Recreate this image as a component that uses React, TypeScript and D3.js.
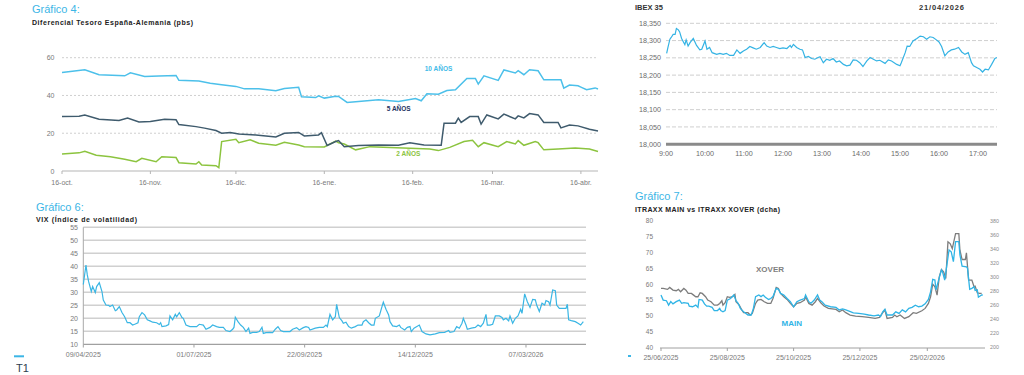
import React from 'react';
import * as d3 from 'd3';

const FONT = '"Liberation Sans", Arial, sans-serif';
const CYAN = '#3cb6e6';
const GREEN = '#8cc43f';
const SLATE = '#3f5b6d';
const GREY_TXT = '#7a7a7a';

// ---------- Gráfico 4: diferencial España-Alemania (pbs) ----------
const spreadTickDates = ['2025-10-16', '2025-11-16', '2025-12-16', '2026-01-16', '2026-02-16', '2026-03-16', '2026-04-16'];
const spreadTickLabels = ['16-oct.', '16-nov.', '16-dic.', '16-ene.', '16-feb.', '16-mar.', '16-abr.'];
const spreadYTicks = [0, 20, 40, 60];

const spread10y: [string, number][] = [
  ['2025-10-16', 52.2], ['2025-10-24', 53.6], ['2025-10-29', 51], ['2025-11-07', 50.4], ['2025-11-09', 52],
  ['2025-11-14', 50], ['2025-11-19', 50.3], ['2025-11-25', 50.6], ['2025-11-26', 48], ['2025-12-03', 47.6],
  ['2025-12-07', 46.5], ['2025-12-11', 45.7], ['2025-12-16', 44.8], ['2025-12-19', 43.5], ['2025-12-24', 43.5],
  ['2025-12-30', 42.5], ['2026-01-02', 43.7], ['2026-01-07', 44.3], ['2026-01-08', 39.3], ['2026-01-13', 38.9],
  ['2026-01-14', 39.8], ['2026-01-16', 38.6], ['2026-01-20', 39.6], ['2026-01-21', 39.5], ['2026-01-24', 36.3],
  ['2026-01-28', 36.8], ['2026-02-04', 37.7], ['2026-02-11', 36.8], ['2026-02-17', 38.4], ['2026-02-19', 37.2],
  ['2026-02-21', 40.9], ['2026-02-25', 40.7], ['2026-02-28', 42.6], ['2026-03-03', 43], ['2026-03-07', 49],
  ['2026-03-10', 49], ['2026-03-11', 46], ['2026-03-13', 50.4], ['2026-03-18', 48], ['2026-03-20', 53.5],
  ['2026-03-24', 51.9], ['2026-03-25', 53.1], ['2026-03-27', 51], ['2026-03-29', 53.6], ['2026-04-01', 53.1],
  ['2026-04-03', 48.3], ['2026-04-09', 48.3], ['2026-04-10', 43.9], ['2026-04-12', 45.5], ['2026-04-15', 45.1],
  ['2026-04-16', 44.4], ['2026-04-18', 43], ['2026-04-21', 44], ['2026-04-22', 43.4],
];

const spread5y: [string, number][] = [
  ['2025-10-16', 28.8], ['2025-10-22', 29], ['2025-10-24', 29.6], ['2025-10-29', 27.4], ['2025-11-05', 26.7],
  ['2025-11-08', 28.1], ['2025-11-12', 26], ['2025-11-16', 26.2], ['2025-11-21', 27.4], ['2025-11-25', 27.1],
  ['2025-11-26', 24.6], ['2025-12-02', 23.5], ['2025-12-05', 22.7], ['2025-12-09', 21.4], ['2025-12-11', 20],
  ['2025-12-14', 20.4], ['2025-12-17', 19.6], ['2025-12-23', 19.1], ['2025-12-30', 18], ['2026-01-02', 20],
  ['2026-01-07', 20.4], ['2026-01-09', 18.6], ['2026-01-14', 19.1], ['2026-01-15', 20.3], ['2026-01-17', 13.5],
  ['2026-01-20', 15.6], ['2026-01-21', 16.1], ['2026-01-23', 12.9], ['2026-01-28', 13.5], ['2026-02-04', 13.8],
  ['2026-02-11', 13.6], ['2026-02-15', 15], ['2026-02-20', 13.8], ['2026-02-26', 13.6], ['2026-02-27', 25.3],
  ['2026-03-03', 25.3], ['2026-03-04', 28], ['2026-03-05', 25.7], ['2026-03-08', 28.8], ['2026-03-11', 28.8],
  ['2026-03-12', 24.8], ['2026-03-14', 29.7], ['2026-03-18', 27.6], ['2026-03-20', 30.1], ['2026-03-24', 27.6],
  ['2026-03-25', 29.2], ['2026-03-27', 28.1], ['2026-03-29', 30.4], ['2026-04-01', 29.7], ['2026-04-03', 25.7],
  ['2026-04-08', 25.7], ['2026-04-09', 22.8], ['2026-04-12', 24.4], ['2026-04-15', 23.9], ['2026-04-19', 22.1],
  ['2026-04-22', 21.2],
];

const spread2y: [string, number][] = [
  ['2025-10-16', 9], ['2025-10-22', 9.6], ['2025-10-24', 10.5], ['2025-10-28', 8.3], ['2025-11-02', 7.6],
  ['2025-11-07', 6.2], ['2025-11-11', 4.9], ['2025-11-13', 6.7], ['2025-11-18', 4.9], ['2025-11-20', 7.6],
  ['2025-11-25', 7.1], ['2025-11-26', 4.4], ['2025-12-02', 3.7], ['2025-12-03', 4.9], ['2025-12-04', 3.2],
  ['2025-12-09', 2.8], ['2025-12-10', 1.8], ['2025-12-11', 15.6], ['2025-12-16', 16.8], ['2025-12-17', 15],
  ['2025-12-21', 16.5], ['2025-12-24', 14.7], ['2025-12-30', 13.6], ['2026-01-02', 15.2], ['2026-01-07', 13.8],
  ['2026-01-09', 12.9], ['2026-01-16', 12.7], ['2026-01-20', 15.8], ['2026-01-21', 15], ['2026-01-23', 14.3],
  ['2026-01-27', 11.2], ['2026-02-01', 12.9], ['2026-02-08', 12.4], ['2026-02-15', 12], ['2026-02-22', 11.6],
  ['2026-02-25', 10.8], ['2026-03-01', 12.5], ['2026-03-06', 15.6], ['2026-03-09', 16.3], ['2026-03-11', 12.9],
  ['2026-03-13', 15], ['2026-03-18', 12.9], ['2026-03-21', 15.6], ['2026-03-24', 14.3], ['2026-03-25', 16.1],
  ['2026-03-27', 13.6], ['2026-03-31', 15.6], ['2026-04-01', 15], ['2026-04-03', 11.2], ['2026-04-08', 11.6],
  ['2026-04-14', 12.2], ['2026-04-19', 11.6], ['2026-04-22', 10.3],
];

// ---------- IBEX 35 intradía ----------
const ibexXTicks = ['9:00', '10:00', '11:00', '12:00', '13:00', '14:00', '15:00', '16:00', '17:00'];
const ibexYTicks = [18000, 18050, 18100, 18150, 18200, 18250, 18300, 18350];
const ibexSession: [string, number][] = [
  ['9:01', 18263], ['9:03', 18280], ['9:06', 18304], ['9:08', 18309], ['9:11', 18318], ['9:14', 18318],
  ['9:16', 18335], ['9:19', 18331], ['9:21', 18325], ['9:24', 18306], ['9:29', 18288], ['9:31', 18302],
  ['9:34', 18284], ['9:37', 18294], ['9:42', 18306], ['9:47', 18286], ['9:52', 18273], ['9:55', 18275],
  ['10:00', 18299], ['10:03', 18275], ['10:07', 18280], ['10:11', 18265], ['10:18', 18260], ['10:23', 18263],
  ['10:28', 18260], ['10:33', 18263], ['10:38', 18257], ['10:44', 18257], ['10:49', 18273], ['10:54', 18263],
  ['10:59', 18270], ['11:04', 18275], ['11:09', 18283], ['11:14', 18279], ['11:19', 18275], ['11:25', 18280],
  ['11:31', 18294], ['11:35', 18284], ['11:40', 18280], ['11:45', 18283], ['11:50', 18280], ['11:55', 18277],
  ['12:00', 18279], ['12:06', 18277], ['12:11', 18286], ['12:13', 18280], ['12:16', 18289], ['12:21', 18280],
  ['12:26', 18275], ['12:30', 18273], ['12:34', 18251], ['12:39', 18254], ['12:44', 18248], ['12:49', 18246],
  ['12:54', 18251], ['12:57', 18253], ['13:02', 18236], ['13:07', 18246], ['13:12', 18243], ['13:17', 18248],
  ['13:22', 18238], ['13:27', 18241], ['13:33', 18231], ['13:38', 18227], ['13:43', 18229], ['13:48', 18244],
  ['13:53', 18243], ['13:58', 18236], ['14:03', 18225], ['14:09', 18241], ['14:14', 18251], ['14:19', 18246],
  ['14:24', 18241], ['14:29', 18243], ['14:37', 18234], ['14:42', 18244], ['14:47', 18241], ['14:55', 18231],
  ['15:00', 18227], ['15:02', 18236], ['15:08', 18265], ['15:11', 18284], ['15:15', 18283], ['15:20', 18299],
  ['15:26', 18306], ['15:31', 18313], ['15:36', 18311], ['15:41', 18304], ['15:46', 18311], ['15:51', 18309],
  ['15:56', 18302], ['16:00', 18296], ['16:04', 18283], ['16:09', 18256], ['16:14', 18267], ['16:19', 18273],
  ['16:24', 18275], ['16:30', 18280], ['16:35', 18267], ['16:40', 18260], ['16:45', 18265], ['16:50', 18236],
  ['16:53', 18227], ['16:58', 18222], ['17:03', 18217], ['17:07', 18209], ['17:11', 18217], ['17:16', 18215],
  ['17:21', 18231], ['17:26', 18248], ['17:29', 18251],
];

// ---------- Gráfico 6: VIX (días desde 09/04/2025, nivel) ----------
const vixStart = '2025-04-09';
const vixTickDates = ['2025-04-09', '2025-07-01', '2025-09-22', '2025-12-14', '2026-03-07'];
const vixTickLabels = ['09/04/2025', '01/07/2025', '22/09/2025', '14/12/2025', '07/03/2026'];
const vixYTicks = [10, 15, 20, 25, 30, 35, 40, 45, 50, 55];
const vixSeries: [number, number][] = [
  [0, 33], [2, 40.5], [3, 36.7], [4, 34.1], [6, 30.3], [7, 32.2], [9, 29.9], [10, 32.2], [12, 33.7], [14, 30.3],
  [15, 27], [17, 25.1], [19, 25], [20, 24.5], [22, 25.1], [24, 22.9], [25, 23.2], [27, 24.5], [29, 22.2], [31, 20.6],
  [33, 18.3], [35, 18.3], [37, 17.4], [39, 17.8], [41, 18.3], [42, 20.6], [44, 22.2], [46, 21.3], [48, 19.4], [50, 19],
  [52, 18.5], [55, 18.3], [57, 17.6], [58, 18.3], [59, 16.8], [62, 17.1], [64, 17.6], [65, 20.9], [67, 19.4], [69, 21.5],
  [70, 20.6], [72, 22.2], [74, 20.3], [75, 20], [77, 17.4], [80, 16.8], [82, 16.8], [85, 16.8], [87, 17.7], [90, 17.4],
  [92, 15.8], [95, 16.5], [97, 17.4], [100, 16.8], [102, 16.5], [105, 16.5], [107, 15.3], [110, 14.9], [112, 15.8], [113, 16.5],
  [114, 20.4], [116, 18.7], [118, 17.4], [120, 16.5], [122, 14.9], [124, 16.2], [125, 14.2], [127, 14.6], [130, 14.6], [132, 14.9],
  [134, 16.5], [135, 14.2], [137, 14.5], [140, 14.6], [142, 14.5], [144, 15.8], [146, 16.8], [148, 15.3], [150, 14.9], [152, 14.9],
  [155, 14.9], [157, 15.8], [160, 16.4], [162, 15.5], [165, 16.4], [167, 16.8], [169, 16.5], [170, 15.5], [174, 16.2], [177, 16.5],
  [180, 16.5], [182, 17.4], [183, 16.8], [185, 21.5], [187, 19.4], [189, 20.6], [190, 25.4], [192, 20.3], [194, 19], [195, 18.1],
  [197, 18.5], [199, 16.8], [201, 16.2], [204, 16.8], [206, 17.4], [209, 17.4], [210, 18.7], [212, 19.4], [214, 18.3], [216, 17.4],
  [218, 17.4], [219, 20], [222, 20.9], [224, 24.5], [225, 26.2], [227, 23.5], [229, 21.3], [230, 18.7], [232, 17.1], [235, 16.8],
  [237, 17.4], [238, 16.5], [241, 15.5], [243, 16.5], [245, 16.8], [246, 14.9], [248, 16.2], [252, 17.4], [254, 14.9], [257, 14],
  [260, 13.6], [264, 14], [267, 14.5], [271, 14.6], [274, 15.3], [275, 14.6], [278, 14.9], [280, 16.8], [282, 16.2], [284, 18.1],
  [285, 20], [287, 17.4], [288, 15.8], [291, 16.2], [294, 16.5], [296, 17.4], [298, 16.8], [300, 18.1], [302, 21.5], [303, 17.4],
  [305, 17.4], [307, 17.7], [309, 20.9], [312, 20.9], [314, 20.3], [315, 19.4], [317, 20], [319, 19], [320, 20.9], [322, 18.1],
  [324, 20], [326, 20.9], [328, 23.5], [329, 21.9], [331, 29.4], [333, 26.4], [335, 24.2], [337, 27.3], [339, 27.1], [340, 25.1],
  [342, 22.6], [344, 25.8], [346, 25.1], [347, 26.8], [349, 26.4], [350, 25.1], [352, 30.9], [354, 30.6], [355, 25.1], [357, 23.8],
  [360, 23.8], [362, 23.8], [363, 25.4], [364, 19.4], [366, 19.1], [369, 18.7], [371, 18.1], [373, 17.4], [375, 18.7],
];

// ---------- Gráfico 7: iTraxx Main (izda) vs Xover (dcha), días desde 25/06/2025 ----------
const itraxxStart = '2025-06-25';
const itraxxTickDates = ['2025-06-25', '2025-08-25', '2025-10-25', '2025-12-25', '2026-02-25'];
const itraxxTickLabels = ['25/06/2025', '25/08/2025', '25/10/2025', '25/12/2025', '25/02/2026'];
const mainYTicks = [40, 45, 50, 55, 60, 65, 70, 75, 80];
const xoverYTicks = [200, 220, 240, 260, 280, 300, 320, 340, 360, 380];
const itraxxMain: [number, number][] = [
  [0, 56.6], [2, 55], [5, 54.8], [7, 53.4], [9, 54.5], [11, 53.8], [14, 54.5], [17, 55], [19, 54], [21, 54.2],
  [25, 54], [26, 53.1], [29, 52.9], [32, 53.4], [34, 52.7], [35, 55.2], [38, 55], [40, 53.8], [42, 53.1], [44, 53.1],
  [47, 52.7], [49, 51.7], [52, 51.7], [54, 52.4], [55, 51.7], [57, 51.3], [59, 51.7], [61, 55], [64, 55.5], [67, 56.6],
  [69, 54.8], [71, 54], [73, 52.4], [76, 51.3], [80, 50.3], [83, 50.3], [85, 52.4], [87, 56.1], [90, 56.6], [92, 56.1],
  [94, 56.6], [96, 55.9], [99, 55.2], [101, 55.5], [103, 56.1], [106, 58.7], [108, 58.4], [110, 57.1], [113, 56.6], [116, 55.5],
  [119, 54.5], [122, 52.9], [125, 54.5], [128, 55], [132, 55.5], [133, 56.6], [136, 54.5], [138, 54], [141, 55], [144, 56.6],
  [146, 55], [148, 54.5], [151, 53.4], [156, 52.9], [161, 52.7], [164, 51.9], [167, 52.2], [170, 51.9], [173, 51.5], [177, 51],
  [182, 50.8], [187, 50.6], [191, 50.3], [196, 50], [200, 50.3], [202, 49.8], [204, 51.3], [206, 52.1], [208, 50.3], [213, 50.3],
  [216, 51.3], [219, 50.8], [222, 51.9], [225, 51.3], [228, 52.4], [231, 52.7], [234, 53.4], [237, 52.9], [240, 53.1], [243, 53.8],
  [246, 55.2], [248, 57.6], [250, 61.5], [252, 61.3], [253, 58.2], [255, 60.8], [258, 64.5], [259, 63.9], [261, 61.3], [263, 66],
  [265, 70.8], [267, 70.2], [269, 67.1], [271, 73.4], [274, 73.4], [275, 69.2], [277, 65.7], [281, 65.5], [282, 65], [284, 58.4],
  [286, 58.7], [288, 59.2], [289, 58], [291, 58.2], [292, 55.9], [295, 56.6], [296, 56.6],
];
const itraxxXover: [number, number][] = [
  [0, 283.7], [2, 283.7], [6, 282.3], [8, 285.1], [11, 281.3], [14, 280.4], [16, 282.3], [18, 279], [21, 283.7], [23, 281.3],
  [25, 276.6], [28, 276.6], [30, 274.2], [32, 271.9], [34, 271.9], [36, 277.5], [38, 276.6], [41, 271.9], [43, 267.1], [46, 264.8],
  [49, 260], [52, 260], [54, 262.4], [56, 266.2], [57, 260], [59, 263.4], [61, 271.9], [63, 270.9], [66, 271.9], [68, 275.2],
  [69, 264.8], [72, 260], [74, 253.9], [76, 249.2], [80, 249.2], [82, 245.9], [84, 248.2], [87, 262.4], [89, 267.1], [92, 268.1],
  [95, 264.8], [98, 262.4], [101, 262.4], [103, 269.5], [106, 285.1], [108, 283.7], [110, 276.6], [113, 271.9], [116, 268.1], [119, 262.4],
  [122, 257.7], [125, 262.4], [128, 263.4], [132, 267.1], [133, 271.9], [136, 262.4], [139, 260], [142, 264.8], [144, 269.5], [147, 263.4],
  [150, 258.7], [154, 255.3], [161, 253.9], [164, 250.6], [167, 253], [170, 249.2], [174, 245.9], [179, 244.4], [185, 243.5], [191, 242.6],
  [197, 241.1], [201, 242.6], [204, 249.2], [206, 253], [208, 241.1], [213, 242.6], [215, 245.9], [217, 243.5], [220, 245.9], [224, 241.1],
  [228, 243.5], [232, 249.2], [235, 248.2], [240, 252], [243, 255.3], [246, 262.4], [248, 271.9], [250, 289.8], [252, 286.1], [254, 274.2],
  [256, 300.2], [258, 310.6], [260, 307.3], [262, 297.9], [264, 349.9], [266, 347.5], [268, 340.4], [271, 361.7], [274, 361.7], [275, 338.1],
  [277, 324.8], [280, 324.8], [281, 334.3], [283, 295.5], [286, 295.5], [288, 286.1], [289, 287], [291, 277.5], [293, 276.6], [295, 276.6],
];

const parseDate = d3.timeParse('%Y-%m-%d');
const dayFrom = (start: string, d: number) => d3.timeDay.offset(parseDate(start) as Date, d);
const minutesOf = (t: string) => {
  const [h, m] = t.split(':').map(Number);
  return h * 60 + m - 9 * 60;
};

const Title = ({ x, y, title, sub, subY, subW }: { x: number; y: number; title: string; sub: string; subY: number; subW: number }) => (
  <g fontFamily={FONT}>
    <text x={x} y={y} fontSize={11} fill={CYAN}>{title}</text>
    <text x={x} y={subY} fontSize={7} fontWeight="bold" fill="#222" textLength={subW} lengthAdjust="spacing">{sub}</text>
  </g>
);

function SpreadChart() {
  const x = d3.scaleTime().domain([parseDate('2025-10-16') as Date, parseDate('2026-04-22') as Date]).range([62, 598]);
  const y = d3.scaleLinear().domain([0, 60]).range([171, 57.7]);
  const line = d3.line<[string, number]>().x(d => x(parseDate(d[0]) as Date)).y(d => y(d[1]));
  return (
    <g fontFamily={FONT}>
      <Title x={32} y={13} subY={24.5} subW={161} title="Gráfico 4:" sub="Diferencial Tesoro España-Alemania (pbs)" />
      {spreadYTicks.map(v => (
        <g key={v}>
          {v > 0 && <line x1={62} x2={598} y1={y(v)} y2={y(v)} stroke="#cfcfcf" strokeDasharray="2,2" />}
          <text x={54.5} y={y(v) + 2.5} textAnchor="end" fontSize={7} fill={GREY_TXT}>{v}</text>
        </g>
      ))}
      <line x1={62} x2={598} y1={171} y2={171} stroke="#b5b5b5" />
      {spreadTickDates.map((d, i) => {
        const px = x(parseDate(d) as Date);
        return (
          <g key={d}>
            <line x1={px} x2={px} y1={171} y2={174} stroke="#b5b5b5" />
            <text x={px} y={184.5} textAnchor="middle" fontSize={7} fill={GREY_TXT}>{spreadTickLabels[i]}</text>
          </g>
        );
      })}
      <path d={line(spread2y) || ''} fill="none" stroke={GREEN} strokeWidth={1.5} />
      <path d={line(spread5y) || ''} fill="none" stroke={SLATE} strokeWidth={1.5} />
      <path d={line(spread10y) || ''} fill="none" stroke="#4cc0ea" strokeWidth={1.5} />
      <text x={438.5} y={71} textAnchor="middle" fontSize={6.5} fontWeight="bold" fill="#3fbbe8">10 AÑOS</text>
      <text x={398.7} y={111} textAnchor="middle" fontSize={6.5} fontWeight="bold" fill="#24345f">5 AÑOS</text>
      <text x={408.3} y={155.7} textAnchor="middle" fontSize={6.5} fontWeight="bold" fill={GREEN}>2 AÑOS</text>
    </g>
  );
}

function IbexChart() {
  const x = d3.scaleLinear().domain([0, 510]).range([666, 997.5]);
  const y = d3.scaleLinear().domain([18000, 18350]).range([144.2, 23.3]);
  const line = d3.line<[string, number]>().x(d => x(minutesOf(d[0]))).y(d => y(d[1]));
  const fmt = d3.format(',');
  return (
    <g fontFamily={FONT}>
      <text x={635} y={9.5} fontSize={7.5} fontWeight="bold" fill="#333">IBEX 35</text>
      <text x={919} y={9.5} fontSize={7.5} fontWeight="bold" fill="#333" textLength={45} lengthAdjust="spacing">21/04/2026</text>
      {ibexYTicks.map(v => (
        <g key={v}>
          {v > 18000 && <line x1={666} x2={997} y1={y(v)} y2={y(v)} stroke="#cfcfcf" strokeDasharray="4,2" />}
          <text x={661} y={y(v) + 2.6} textAnchor="end" fontSize={7.2} fill="#6b6b6b">{fmt(v)}</text>
        </g>
      ))}
      <line x1={666} x2={997} y1={144.2} y2={144.2} stroke="#8a8a8a" strokeWidth={3} />
      {ibexXTicks.map(t => (
        <text key={t} x={x(minutesOf(t))} y={156} textAnchor="middle" fontSize={7.2} fill="#6b6b6b">{t}</text>
      ))}
      <path d={line(ibexSession) || ''} fill="none" stroke="#34b3e4" strokeWidth={1.2} />
    </g>
  );
}

function VixChart() {
  const x = d3.scaleTime().domain([parseDate('2025-04-09') as Date, parseDate('2026-04-21') as Date]).range([83.3, 586]);
  const y = d3.scaleLinear().domain([10, 55]).range([344.3, 227.3]);
  const line = d3.line<[number, number]>().x(d => x(dayFrom(vixStart, d[0]))).y(d => y(d[1]));
  return (
    <g fontFamily={FONT}>
      <Title x={36} y={210.5} subY={221.7} subW={101} title="Gráfico 6:" sub="VIX (Índice de volatilidad)" />
      {vixYTicks.map(v => (
        <g key={v}>
          {v > 10 && <line x1={83.3} x2={586} y1={y(v)} y2={y(v)} stroke="#d0d0d0" strokeWidth={1.4} />}
          <text x={78} y={y(v) + 2.5} textAnchor="end" fontSize={7} fill={GREY_TXT}>{v}</text>
        </g>
      ))}
      <line x1={83.3} x2={83.3} y1={227.3} y2={344.3} stroke="#a8a8a8" />
      <line x1={83.3} x2={586} y1={344.3} y2={344.3} stroke="#a0a0a0" strokeWidth={1.2} />
      {vixTickDates.map((d, i) => {
        const px = x(parseDate(d) as Date);
        return (
          <g key={d}>
            <line x1={px} x2={px} y1={344.3} y2={347.5} stroke="#a0a0a0" />
            <text x={px} y={357} textAnchor="middle" fontSize={7} fill={GREY_TXT}>{vixTickLabels[i]}</text>
          </g>
        );
      })}
      <path d={line(vixSeries) || ''} fill="none" stroke="#3ab6e4" strokeWidth={1.2} />
    </g>
  );
}

function ItraxxChart() {
  const x = d3.scaleTime().domain([parseDate('2025-06-25') as Date, parseDate('2026-04-20') as Date]).range([661, 986]);
  const yL = d3.scaleLinear().domain([40, 80]).range([347.7, 220.7]);
  const yR = d3.scaleLinear().domain([200, 380]).range([347.3, 220.7]);
  const lineMain = d3.line<[number, number]>().x(d => x(dayFrom(itraxxStart, d[0]))).y(d => yL(d[1]));
  const lineXover = d3.line<[number, number]>().x(d => x(dayFrom(itraxxStart, d[0]))).y(d => yR(d[1]));
  return (
    <g fontFamily={FONT}>
      <Title x={635} y={200} subY={211.7} subW={145} title="Gráfico 7:" sub="ITRAXX MAIN vs ITRAXX XOVER (dcha)" />
      {mainYTicks.map(v => (
        <text key={v} x={653} y={yL(v) + 2.3} textAnchor="end" fontSize={6.5} fill={GREY_TXT}>{v}</text>
      ))}
      {xoverYTicks.map(v => (
        <text key={v} x={990} y={yR(v) + 2} fontSize={5.3} fill="#8a8a8a">{v}</text>
      ))}
      <line x1={660} x2={985} y1={348} y2={348} stroke="#a0a0a0" />
      {itraxxTickDates.map((d, i) => {
        const px = x(parseDate(d) as Date);
        return (
          <g key={d}>
            <line x1={px} x2={px} y1={348} y2={351} stroke="#a0a0a0" />
            <text x={px} y={360} textAnchor="middle" fontSize={7} fill={GREY_TXT}>{itraxxTickLabels[i]}</text>
          </g>
        );
      })}
      <path d={lineXover(itraxxXover) || ''} fill="none" stroke="#7d7d7d" strokeWidth={1.3} />
      <path d={lineMain(itraxxMain) || ''} fill="none" stroke="#2fb4e6" strokeWidth={1.3} />
      <text x={770} y={272} textAnchor="middle" fontSize={8} fontWeight="bold" fill="#808080">XOVER</text>
      <text x={791.7} y={325.7} textAnchor="middle" fontSize={8} fontWeight="bold" fill="#2fb4e6">MAIN</text>
    </g>
  );
}

export default function App() {
  return (
    <svg width={1024} height={375} style={{ position: 'absolute', left: 0, top: 0, background: '#fff' }}>
      <rect width={1024} height={375} fill="#fff" />
      <SpreadChart />
      <IbexChart />
      <VixChart />
      <ItraxxChart />
      <rect x={14} y={355.3} width={10} height={2} fill={CYAN} />
      <text x={16} y={372} fontSize={11} fontFamily={FONT} fill="#2d3e50">T1</text>
      <rect x={628} y={355} width={3} height={2} fill={CYAN} />
    </svg>
  );
}
